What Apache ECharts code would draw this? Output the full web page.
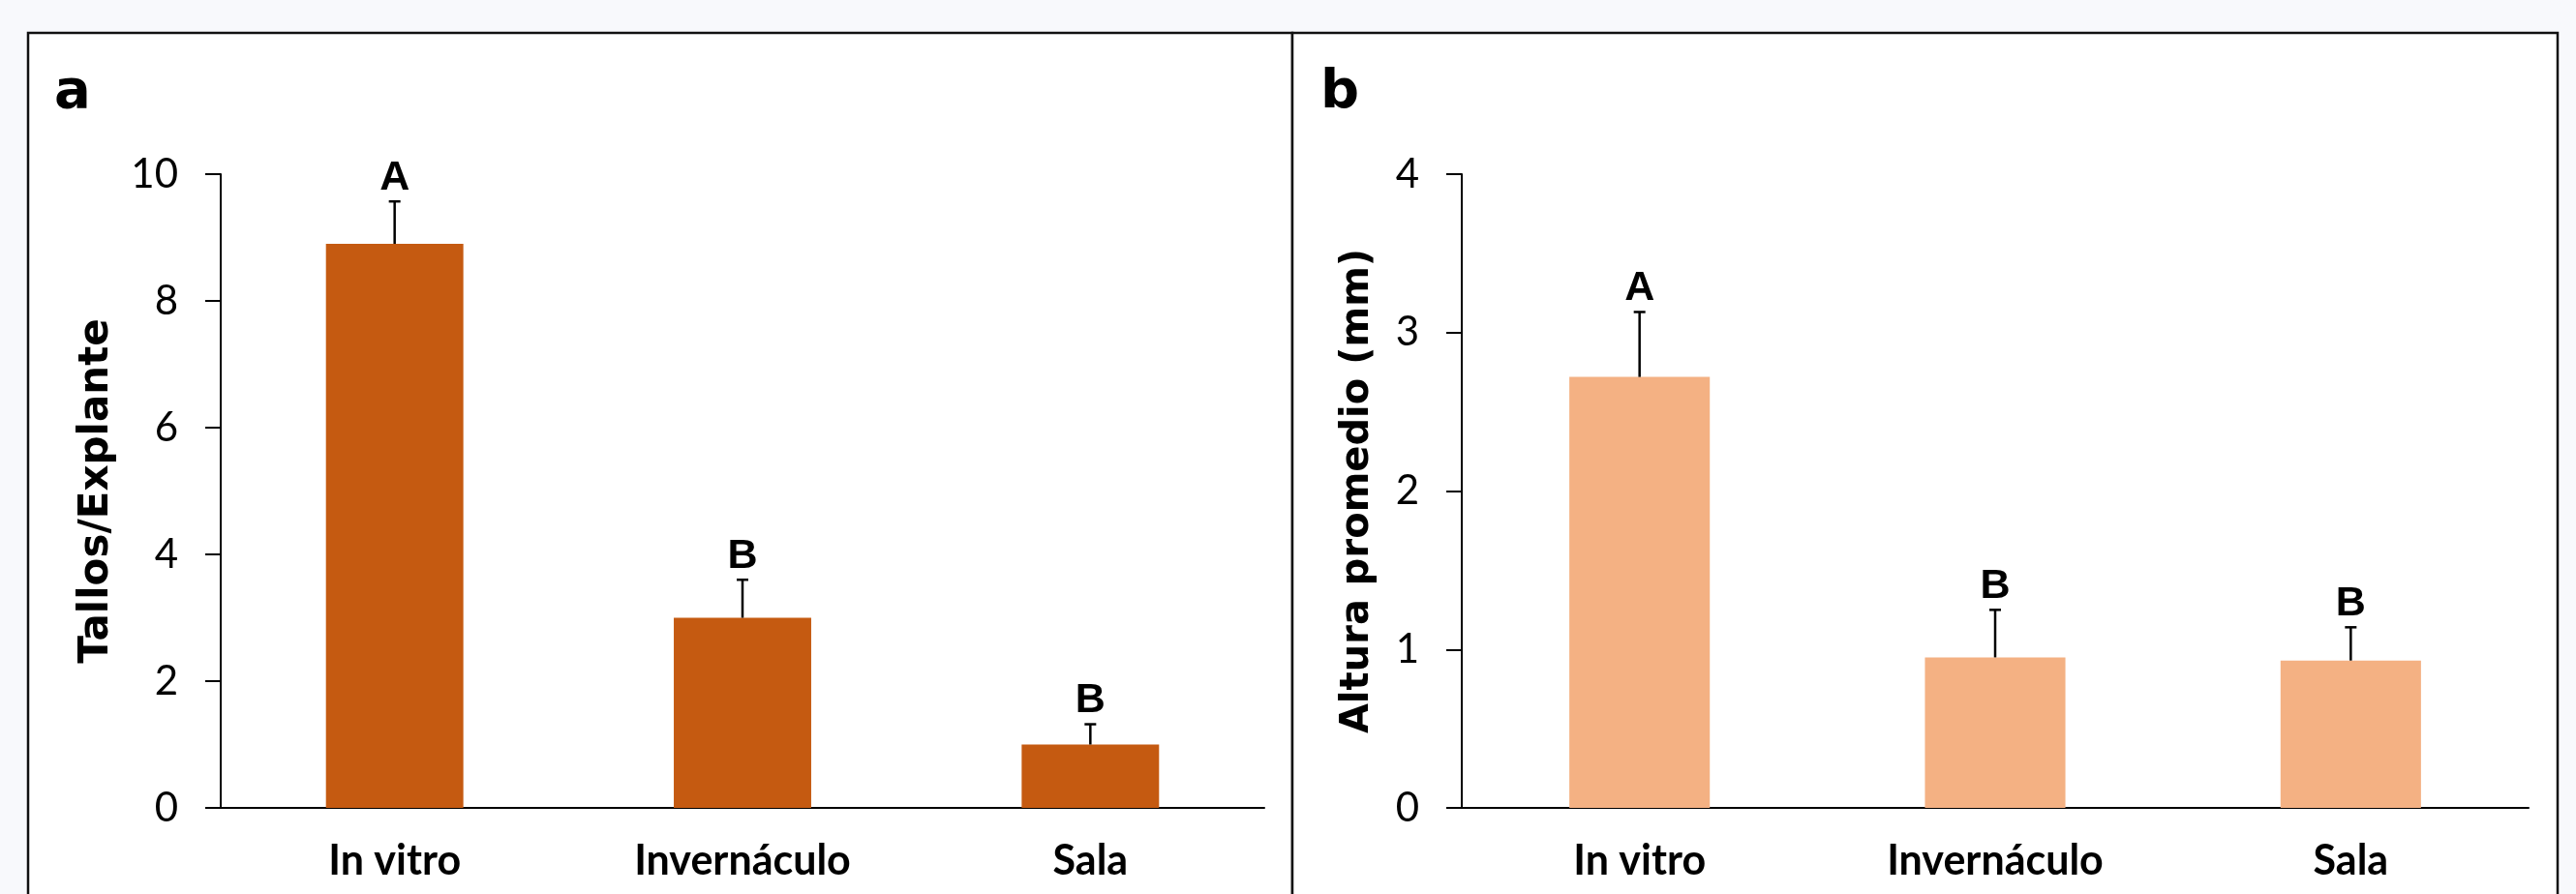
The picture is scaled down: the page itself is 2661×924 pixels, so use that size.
<!DOCTYPE html>
<html>
<head>
<meta charset="utf-8">
<script src="https://cdn.jsdelivr.net/npm/echarts@6/dist/echarts.min.js"></script>
<style>
  html, body { margin: 0; padding: 0; background: #f8f9fc; }
  #main { width: 2661px; height: 924px; }
</style>
</head>
<body>
<div id="main"></div>
<script>
// categories shared by both panels
const categories = ["In vitro", "Invernáculo", "Sala"];

// panel a: Tallos/Explante
const tallosMean = [8.9, 3.0, 1.0];
const tallosErr = [0.67, 0.6, 0.32];
const tallosLetters = ["A", "B", "B"];

// panel b: Altura promedio (mm)
const alturaMean = [2.72, 0.95, 0.93];
const alturaErr = [0.41, 0.3, 0.21];
const alturaLetters = ["A", "B", "B"];

const tickFont = "Lato";
const nameFont = "DejaVu Sans";

function errorData(mean, err) {
  return mean.map((m, i) => [i, m, m + err[i]]);
}

function errorRenderer(letters) {
  return function (params, api) {
    const base = api.coord([api.value(0), api.value(1)]);
    const top = api.coord([api.value(0), api.value(2)]);
    const cap = 6;
    return {
      type: "group",
      children: [
        {
          type: "line",
          shape: { x1: base[0], y1: base[1], x2: top[0], y2: top[1] },
          style: { stroke: "#000", lineWidth: 2.5 },
        },
        {
          type: "line",
          shape: { x1: top[0] - cap, y1: top[1], x2: top[0] + cap, y2: top[1] },
          style: { stroke: "#000", lineWidth: 2.5 },
        },
        {
          type: "text",
          x: top[0],
          y: top[1] - 3,
          style: {
            text: letters[params.dataIndex],
            fill: "#000",
            font: 'bold 43px "Liberation Sans"',
            align: "center",
            verticalAlign: "bottom",
          },
        },
      ],
    };
  };
}

function yAxis(gridIndex, max, interval, name, nameGap, nameSize) {
  return {
    type: "value",
    gridIndex: gridIndex,
    min: 0,
    max: max,
    interval: interval,
    name: name,
    nameLocation: "middle",
    nameRotate: 90,
    nameGap: nameGap,
    nameTextStyle: { fontFamily: nameFont, fontWeight: "bold", fontSize: nameSize, color: "#000" },
    axisLine: { show: true, lineStyle: { color: "#000", width: 2 } },
    axisTick: { show: true, length: 16, lineStyle: { color: "#000", width: 2 } },
    axisLabel: { margin: 44, fontFamily: tickFont, fontSize: 42, color: "#000" },
    splitLine: { show: false },
  };
}

function xAxis(gridIndex) {
  return {
    type: "category",
    gridIndex: gridIndex,
    data: categories,
    axisLine: { show: true, lineStyle: { color: "#000", width: 2 } },
    axisTick: { show: false },
    axisLabel: { margin: 34, fontFamily: tickFont, fontWeight: "bold", fontSize: 43, color: "#000" },
  };
}

var chartDom = document.getElementById("main");
var myChart = echarts.init(chartDom, null, { renderer: "canvas" });

var option = {
  backgroundColor: "#f8f9fc",
  animation: false,
  graphic: [
    {
      type: "rect",
      z: -10,
      shape: { x: 29, y: 34, width: 1306, height: 930 },
      style: { fill: "#fff", stroke: "#111", lineWidth: 2.5 },
    },
    {
      type: "rect",
      z: -10,
      shape: { x: 1335, y: 34, width: 1307, height: 930 },
      style: { fill: "#fff", stroke: "#111", lineWidth: 2.5 },
    },
    {
      type: "text",
      left: 56,
      top: 68,
      style: { text: "a", fill: "#000", font: 'bold 56px "DejaVu Sans"' },
    },
    {
      type: "text",
      left: 1364,
      top: 68,
      style: { text: "b", fill: "#000", font: 'bold 56px "DejaVu Sans"' },
    },
  ],
  grid: [
    { left: 228, top: 180, width: 1078, height: 655 },
    { left: 1510, top: 180, width: 1102, height: 655 },
  ],
  xAxis: [xAxis(0), xAxis(1)],
  yAxis: [
    yAxis(0, 10, 2, "Tallos/Explante", 107, 42),
    yAxis(1, 4, 1, "Altura promedio (mm)", 87, 40),
  ],
  series: [
    {
      type: "bar",
      xAxisIndex: 0,
      yAxisIndex: 0,
      barWidth: "39.5%",
      itemStyle: { color: "#c55a11" },
      data: tallosMean,
    },
    {
      type: "custom",
      xAxisIndex: 0,
      yAxisIndex: 0,
      renderItem: errorRenderer(tallosLetters),
      encode: { x: 0, y: [1, 2] },
      data: errorData(tallosMean, tallosErr),
      z: 5,
    },
    {
      type: "bar",
      xAxisIndex: 1,
      yAxisIndex: 1,
      barWidth: "39.5%",
      itemStyle: { color: "#f4b183" },
      data: alturaMean,
    },
    {
      type: "custom",
      xAxisIndex: 1,
      yAxisIndex: 1,
      renderItem: errorRenderer(alturaLetters),
      encode: { x: 0, y: [1, 2] },
      data: errorData(alturaMean, alturaErr),
      z: 5,
    },
  ],
};

option && myChart.setOption(option);
</script>
</body>
</html>
